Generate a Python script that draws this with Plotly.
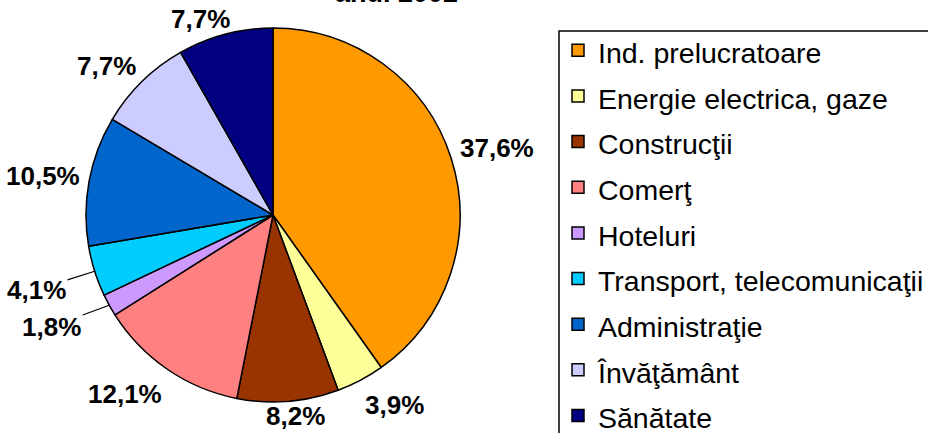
import math
import plotly.graph_objects as go

categories = ["Ind. prelucratoare", "Energie electrica, gaze", "Construcţii", "Comerţ",
              "Hoteluri", "Transport, telecomunicaţii", "Administraţie", "Învăţământ", "Sănătate"]
values = [37.6, 3.9, 8.2, 12.1, 1.8, 4.1, 10.5, 7.7, 7.7]
value_labels = ["37,6%", "3,9%", "8,2%", "12,1%", "1,8%", "4,1%", "10,5%", "7,7%", "7,7%"]
colors = ["#FF9900", "#FFFF99", "#993300", "#FF8080", "#CC99FF",
          "#00CCFF", "#0066CC", "#CCCCFF", "#000080"]
title_text = "anul 2002"

# style: extra horizontal push (px) for labels that are moved out and get a leader line
label_push = [0, 0, 0, 0, 20, 20, 0, 0, 0]

W, H = 928, 433
CX, CY, R = 273.0, 215.0, 187.0          # pie placement (px)
LABEL_SIZE = 26
GAP = 9
LABEL_DY = 4

legend_names = ['<span style="font-size:28.5px">%s</span>' % c for c in categories]

fig = go.Figure(go.Pie(
    labels=legend_names,
    values=values,
    text=value_labels,
    textinfo="none",
    hovertemplate="%{text}<extra></extra>",
    sort=False,
    direction="clockwise",
    rotation=0,
    marker=dict(colors=colors, line=dict(color="black", width=1.5)),
    domain=dict(x=[(CX - R) / W, (CX + R) / W], y=[1 - (CY + R) / H, 1 - (CY - R) / H]),
    showlegend=True,
))

# label placement derived from the slice angles (Excel-like outside labels)
char_w = {",": 0.278, "%": 0.889}
total = sum(values)
annotations = []
cum = 0.0
for v, txt, push in zip(values, value_labels, label_push):
    frac = (cum + v / 2.0) / total
    cum += v
    th = 2 * math.pi * frac
    ux, uy = math.sin(th), -math.cos(th)
    w = sum(char_w.get(ch, 0.556) for ch in txt) * LABEL_SIZE
    h = LABEL_SIZE
    sx = max(-1.0, min(1.0, 3 * ux))
    sy = max(-1.0, min(1.0, 3 * uy))
    lx = CX + (R + GAP) * ux + w / 2 * sx + (push if ux > 0 else -push)
    ly = CY + (R + GAP) * uy + h / 2 * sy + LABEL_DY
    ly = max(h / 2 + 6, min(H - h / 2 - 4, ly))   # keep labels on the canvas
    font = dict(family="Liberation Sans", size=LABEL_SIZE, color="black")
    if push:
        ex, ey = CX + R * ux, CY + R * uy
        annotations.append(dict(
            text="<b>%s</b>" % txt, x=ex / W, y=1 - ey / H, xref="paper", yref="paper",
            showarrow=True, ax=lx - ex, ay=ly - ey, axref="pixel", ayref="pixel",
            arrowhead=0, arrowwidth=1.2, arrowcolor="black", standoff=0,
            font=font,
        ))
    else:
        annotations.append(dict(
            text="<b>%s</b>" % txt, x=lx / W, y=1 - ly / H, xref="paper", yref="paper",
            xanchor="center", yanchor="middle", showarrow=False, font=font,
        ))

annotations.append(dict(
    text="<b>%s</b>" % title_text, x=396 / W, xref="paper", y=1, yref="paper",
    xanchor="center", yanchor="bottom", yshift=-10, showarrow=False,
    font=dict(family="Liberation Sans", size=27, color="black"),
))

fig.update_layout(
    width=W, height=H,
    margin=dict(l=0, r=0, t=0, b=0, autoexpand=False),
    paper_bgcolor="white",
    plot_bgcolor="white",
    font=dict(family="Liberation Sans", color="black"),
    showlegend=True,
    legend=dict(
        x=558 / W, xanchor="left",
        y=1 - 22.5 / H, yanchor="top",
        borderwidth=0,
        bgcolor="rgba(0,0,0,0)",
        font=dict(family="Liberation Sans", size=32.8, color="black"),
    ),
    shapes=[dict(type="rect", xref="paper", yref="paper",
                 x0=559 / W, x1=1.05, y0=1 - 31 / H, y1=-0.05,
                 line=dict(color="black", width=1.5), fillcolor="rgba(0,0,0,0)")],
    annotations=annotations,
)

fig.write_html("out.html", config={"displayModeBar": False},
               post_script="document.body.style.margin='0';")
